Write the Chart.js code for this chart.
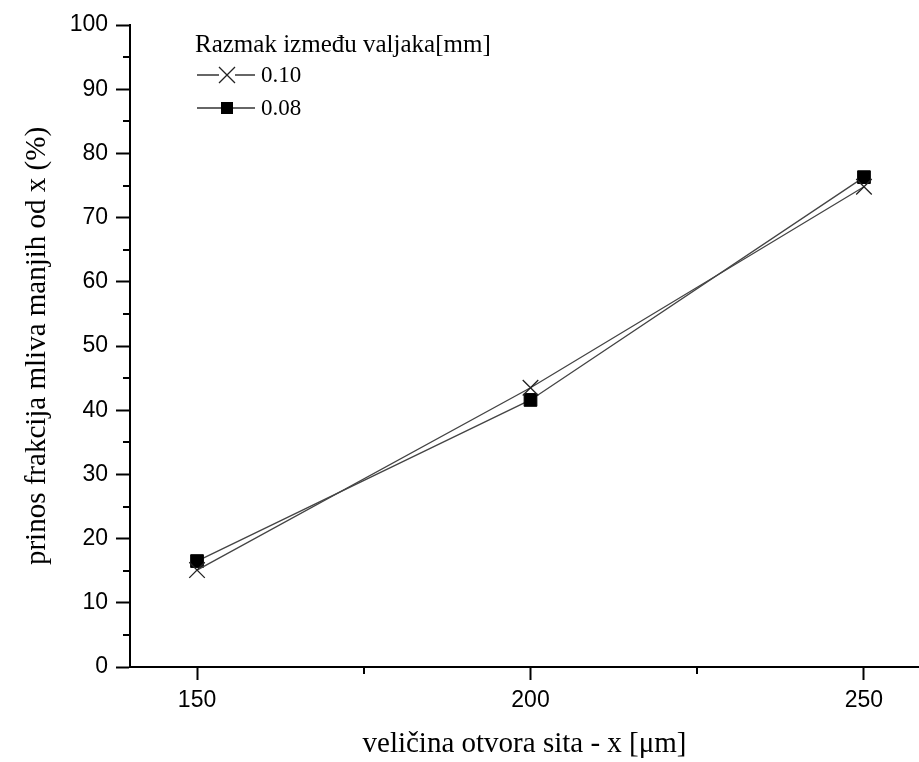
<!DOCTYPE html>
<html>
<head>
<meta charset="utf-8">
<script src="https://cdn.jsdelivr.net/npm/chart.js@4/dist/chart.umd.min.js"></script>
<style>
  html, body { margin: 0; padding: 0; background: #fff; }
  #wrap { width: 919px; height: 762px; }
</style>
</head>
<body>
<div id="wrap"><canvas id="chart" width="919" height="762"></canvas></div>
<script>
// podaci ocitani sa grafika
const velicinaSita = [150, 200, 250];
const razmak010 = [15.1, 43.5, 74.8];
const razmak008 = [16.5, 41.6, 76.3];
const xMajorTicks = [150, 200, 250];
const xMinorTicks = [175, 225];
const yMinorTicks = [5, 15, 25, 35, 45, 55, 65, 75, 85, 95];
const legendTitle = "Razmak između valjaka[mm]";
const seriesLabels = ["0.10", "0.08"];

const sans = "'Liberation Sans', Arial, sans-serif";
const serif = "'Liberation Serif', 'Times New Roman', serif";

function toPoints(xs, ys) {
    return xs.map((x, i) => ({ x: x, y: ys[i] }));
}

// sitne podeoke i legenda crtaju se rucno
const extrasPlugin = {
    id: "extras",
    afterDraw(chart) {
        const ctx = chart.ctx;
        const xs = chart.scales.x;
        const ys = chart.scales.y;
        ctx.save();
        ctx.strokeStyle = "#000";
        ctx.lineWidth = 2;
        xMinorTicks.forEach(v => {
            const px = Math.round(xs.getPixelForValue(v));
            ctx.beginPath();
            ctx.moveTo(px, xs.top);
            ctx.lineTo(px, xs.top + 7);
            ctx.stroke();
        });
        yMinorTicks.forEach(v => {
            const py = Math.round(ys.getPixelForValue(v));
            ctx.beginPath();
            ctx.moveTo(ys.right, py);
            ctx.lineTo(ys.right - 7, py);
            ctx.stroke();
        });

        // legenda
        const lx = 197;
        ctx.fillStyle = "#000";
        ctx.font = "25px " + serif;
        ctx.textBaseline = "alphabetic";
        ctx.textAlign = "left";
        ctx.fillText(legendTitle, 195, 52);

        const rows = [75, 108];
        chart.data.datasets.forEach((ds, i) => {
            const ry = rows[i];
            ctx.strokeStyle = "#333";
            ctx.lineWidth = 1.3;
            ctx.beginPath();
            ctx.moveTo(lx, ry);
            ctx.lineTo(lx + 58, ry);
            ctx.stroke();
            const cx = lx + 30;
            if (ds.pointStyle === "crossRot") {
                const d = 8;
                ctx.strokeStyle = "#222";
                ctx.fillStyle = "#fff";
                ctx.fillRect(cx - d, ry - d, 2 * d, 2 * d);
                ctx.beginPath();
                ctx.moveTo(cx - d, ry - d);
                ctx.lineTo(cx + d, ry + d);
                ctx.moveTo(cx + d, ry - d);
                ctx.lineTo(cx - d, ry + d);
                ctx.stroke();
            } else {
                ctx.fillStyle = "#000";
                ctx.fillRect(cx - 6, ry - 6, 12, 12);
            }
            ctx.fillStyle = "#000";
            ctx.font = "23px " + serif;
            ctx.textBaseline = "middle";
            ctx.fillText(seriesLabels[i], lx + 64, ry + 1);
        });
        ctx.restore();
    }
};

const ctx = document.getElementById("chart").getContext("2d");
new Chart(ctx, {
    type: "line",
    data: {
        datasets: [{
            label: seriesLabels[0],
            data: toPoints(velicinaSita, razmak010),
            borderColor: "#444",
            borderWidth: 1.3,
            pointStyle: "crossRot",
            pointRadius: 11,
            pointBorderWidth: 1.3,
            pointBorderColor: "#222",
            pointBackgroundColor: "rgba(0,0,0,0)",
            tension: 0
        }, {
            label: seriesLabels[1],
            data: toPoints(velicinaSita, razmak008),
            borderColor: "#444",
            borderWidth: 1.3,
            pointStyle: "rect",
            pointRadius: 9,
            pointBorderWidth: 1,
            pointBorderColor: "#000",
            pointBackgroundColor: "#000",
            tension: 0
        }]
    },
    options: {
        responsive: false,
        devicePixelRatio: 1,
        animation: false,
        layout: {
            autoPadding: false,
            padding: { top: 25, right: 0, bottom: 0, left: 0 }
        },
        plugins: {
            legend: { display: false },
            tooltip: { enabled: false }
        },
        scales: {
            x: {
                type: "linear",
                min: 139.95,
                max: 258.25,
                afterBuildTicks: scale => {
                    scale.ticks = xMajorTicks.map(v => ({ value: v }));
                },
                afterFit: scale => {
                    scale.height = 95;
                    scale.paddingLeft = 0;
                    scale.paddingRight = 0;
                },
                border: { display: true, color: "#000", width: 2 },
                grid: {
                    drawOnChartArea: false,
                    drawTicks: true,
                    tickLength: 13,
                    tickWidth: 2,
                    tickColor: "#000"
                },
                ticks: {
                    color: "#000",
                    padding: 7,
                    maxRotation: 0,
                    font: { family: sans, size: 23 },
                    callback: v => String(v)
                },
                title: {
                    display: true,
                    text: "veličina otvora sita - x [μm]",
                    color: "#000",
                    font: { family: serif, size: 29 },
                    padding: { top: 0, bottom: 0 }
                }
            },
            y: {
                min: 0,
                max: 100,
                afterFit: scale => { scale.width = 130; },
                border: { display: true, color: "#000", width: 2 },
                grid: {
                    drawOnChartArea: false,
                    drawTicks: true,
                    tickLength: 14,
                    tickWidth: 2,
                    tickColor: "#000"
                },
                ticks: {
                    stepSize: 10,
                    color: "#000",
                    padding: 8,
                    font: { family: sans, size: 23 }
                },
                title: {
                    display: true,
                    text: "prinos frakcija mliva manjih od x (%)",
                    color: "#000",
                    font: { family: serif, size: 29 },
                    padding: { top: 20, bottom: 0 }
                }
            }
        }
    },
    plugins: [extrasPlugin]
});
</script>
</body>
</html>
